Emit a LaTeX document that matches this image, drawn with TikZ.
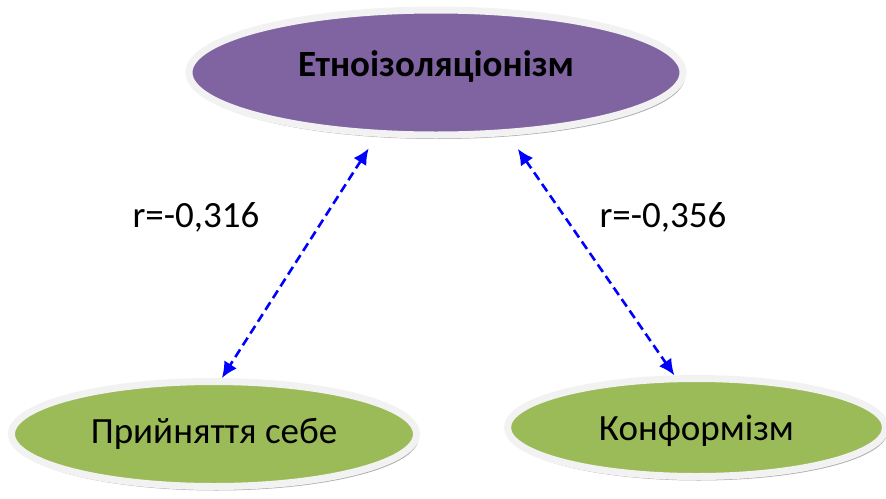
\documentclass[tikz,border=0pt]{standalone}
\usepackage{fontspec}
\setmainfont{Carlito}
\usetikzlibrary{shapes.geometric,shadows,arrows.meta}
\definecolor{purplefill}{HTML}{8064A2}
\definecolor{greenfill}{HTML}{9BBB59}
\definecolor{ringgray}{HTML}{F2F2F2}
\definecolor{linkblue}{HTML}{0000FF}

\begin{document}
\begin{tikzpicture}[x=1pt,y=-1pt]
    \tikzstyle{oval}=[ellipse,draw=ringgray,line width=7pt,inner sep=0pt,
      drop shadow={shadow xshift=2pt,shadow yshift=-4pt,fill=gray!65,opacity=1}]
    \tikzstyle{topoval}=[oval,fill=purplefill,minimum width=494pt,minimum height=125pt,font=\fontsize{37}{42}\selectfont\bfseries]
    \tikzstyle{lowoval}=[oval,fill=greenfill,font=\fontsize{37}{42}\selectfont]
    \tikzstyle{link}=[linkblue,line width=2.6pt,dash pattern=on 9pt off 5pt,{Latex[length=16pt,width=15pt]}-{Latex[length=16pt,width=15pt]}]
    \tikzstyle{coef}=[font=\fontsize{37}{42}\selectfont]
    \useasboundingbox (0,0) rectangle (886,498);
    \node[topoval,text height=27pt,text depth=19pt] (etno) at (436,72.5) {Етноізоляціонізм};
    \node[lowoval,minimum width=405pt,minimum height=105pt] (self) at (214,434) {Прийняття себе};
    \node[lowoval,minimum width=378pt,minimum height=98pt,text height=27pt,text depth=2pt] (konf) at (696.5,427.5) {Конформізм};
    \draw[link,shorten <=14pt] (etno.227) -- (self.82);
    \draw[link,shorten <=16pt] (etno.319) -- (konf.113);
    \node[coef] (r1) at (196,217) {r=-0,316};
    \node[coef] (r2) at (663,217) {r=-0,356};
\end{tikzpicture}
\end{document}
